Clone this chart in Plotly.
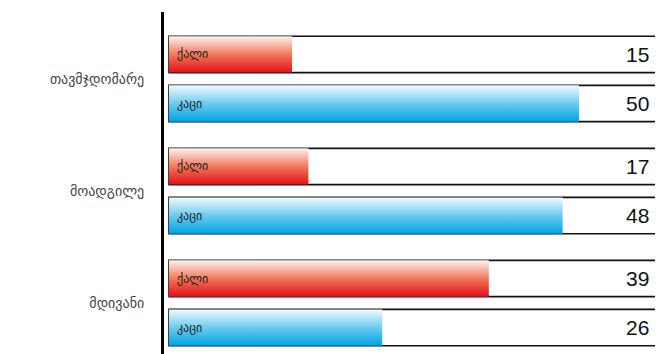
import plotly.graph_objects as go

# data
categories = ["თავმჯდომარე", "მოადგილე", "მდივანი"]
series_names = ["ქალი", "კაცი"]
women = [15, 17, 39]
men = [50, 48, 26]
full_scale = 60

red_scale = [[0, "#e3101b"], [0.45, "#ef6d4f"], [1, "#fdf2ec"]]
blue_scale = [[0, "#00a4e6"], [0.5, "#6ccbf1"], [1, "#f3fafe"]]

offset = 0.219
half_h = 0.162

fig = go.Figure()

rows = []
for i, cat in enumerate(categories):
    rows.append((-i + offset, women[i], series_names[0], red_scale))
    rows.append((-i - offset, men[i], series_names[1], blue_scale))

# white track behind every bar
fig.add_trace(go.Bar(
    orientation="h",
    x=[full_scale] * len(rows),
    y=[r[0] for r in rows],
    base=0,
    width=2 * half_h,
    marker=dict(color="white", line=dict(color="#111111", width=1.6)),
    hoverinfo="skip", showlegend=False))

# gradient bars
for yc, val, name, cs in rows:
    fig.add_trace(go.Scatter(
        x=[0, val, val, 0, 0],
        y=[yc - half_h, yc - half_h, yc + half_h, yc + half_h, yc - half_h],
        mode="lines", fill="toself",
        line=dict(width=0),
        fillgradient=dict(type="vertical", colorscale=cs,
                          start=yc - half_h, stop=yc + half_h),
        hoverinfo="skip", showlegend=False))
    fig.add_annotation(x=0, y=yc, text=name, showarrow=False,
                       xanchor="left", xshift=6,
                       font=dict(family="DejaVu Sans", size=12, color="#222222"))
    fig.add_annotation(x=full_scale, y=yc, text=str(val), showarrow=False,
                       xanchor="right", xshift=-10,
                       font=dict(family="Liberation Sans", size=21, color="#111111"))

fig.update_xaxes(range=[-0.61, 60.24], showgrid=False, zeroline=False,
                 showticklabels=False, showline=False, fixedrange=True)
fig.update_yaxes(range=[-2.455, 0.598], tickvals=[0, -1, -2], ticktext=categories,
                 showgrid=False, zeroline=False, showline=True,
                 linecolor="#000000", linewidth=3, ticks="",
                 ticklabelstandoff=14, automargin=False,
                 tickfont=dict(family="DejaVu Sans", size=14, color="#444444"))
# page body adds 8px, so the figure is sized to the visible area
fig.update_layout(
    width=655, height=346,
    margin=dict(l=156, r=0, t=4, b=0),
    plot_bgcolor="white", paper_bgcolor="white",
    showlegend=False)

fig.write_html("out.html")
